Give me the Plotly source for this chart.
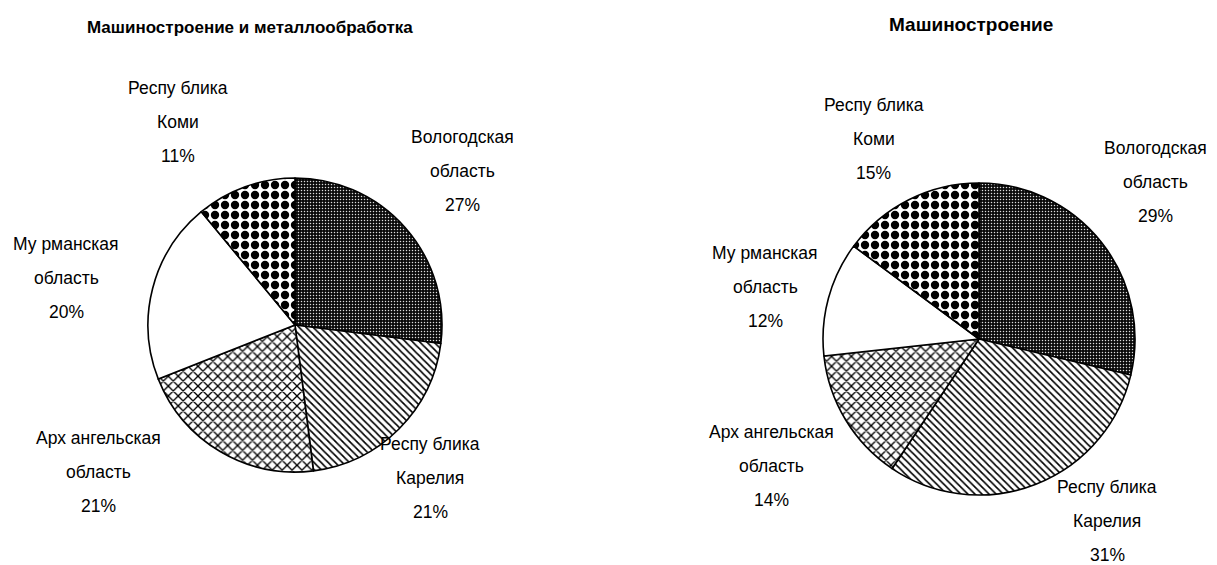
import plotly.graph_objects as go

# ---- data ----
regions = ["Вологодская область", "Республика Карелия", "Архангельская область",
           "Мурманская область", "Республика Коми"]
label_lines = [["Вологодская", "область"], ["Респу блика", "Карелия"],
               ["Арх ангельская", "область"], ["Му рманская", "область"],
               ["Респу блика", "Коми"]]
share_metal = [27, 21, 21, 20, 11]      # Машиностроение и металлообработка, %
share_mach = [29, 31, 14, 12, 15]       # Машиностроение, %
titles = ["Машиностроение и металлообработка", "Машиностроение"]

# ---- styling / layout ----
W, H = 1217, 565
FONT = "Liberation Sans, Arial, sans-serif"
colors = ["#0a0a0a", "white", "white", "white", "white"]
shapes = [".", "\\", "x", "", "."]
fg = ["#dddddd", "black", "black", "black", "black"]
bg = ["#0a0a0a", "white", "white", "white", "white"]
psize = [3, 5, 7, 8, 10]
psol = [0.2, 0.33, 0.35, 0.3, 0.55]

# pie boxes in pixels: (left, top, right, bottom)
boxes = [(148, 178, 442, 472), (823, 183, 1135, 495)]
# label block centres in pixels for each slice
label_pos = [
    [(462, 171), (430, 478), (98, 472), (66, 278), (178, 122)],
    [(1155, 182), (1107, 521), (771, 466), (765, 287), (874, 139)],
]
title_pos = [(250, 28), (971, 25)]
title_size = [17, 19]
LINE_GAP = 34

fig = go.Figure()
for values, box in zip([share_metal, share_mach], boxes):
    l, t, r, b = box
    fig.add_trace(go.Pie(
        labels=regions, values=values, sort=False, direction="clockwise",
        rotation=0, textinfo="none", hoverinfo="label+percent", showlegend=False,
        domain=dict(x=[l / W, r / W], y=[1 - b / H, 1 - t / H]),
        marker=dict(colors=colors, line=dict(color="black", width=1.6),
                    pattern=dict(shape=shapes, fgcolor=fg, bgcolor=bg, size=psize,
                                 solidity=psol, fillmode="replace"))))

ann = []
for pi, values in enumerate([share_metal, share_mach]):
    for i, (lines, v) in enumerate(zip(label_lines, values)):
        cx, cy = label_pos[pi][i]
        all_lines = lines + [f"{v}%"]
        for k, txt in enumerate(all_lines):
            y = cy + (k - 1) * LINE_GAP
            ann.append(dict(x=cx / W, y=1 - y / H, xref="paper", yref="paper",
                            text=txt, showarrow=False, xanchor="center", yanchor="middle",
                            font=dict(family=FONT, size=17.5, color="black")))
    tx, ty = title_pos[pi]
    ann.append(dict(x=tx / W, y=1 - ty / H, xref="paper", yref="paper",
                    text=f"<b>{titles[pi]}</b>", showarrow=False,
                    xanchor="center", yanchor="middle",
                    font=dict(family=FONT, size=title_size[pi], color="black")))

fig.update_layout(width=W, height=H, margin=dict(l=0, r=0, t=0, b=0),
                  paper_bgcolor="white", plot_bgcolor="white", annotations=ann)
fig.write_html("out.html", config={"displayModeBar": False},
               post_script="document.body.style.margin='0';document.body.style.padding='0';")
